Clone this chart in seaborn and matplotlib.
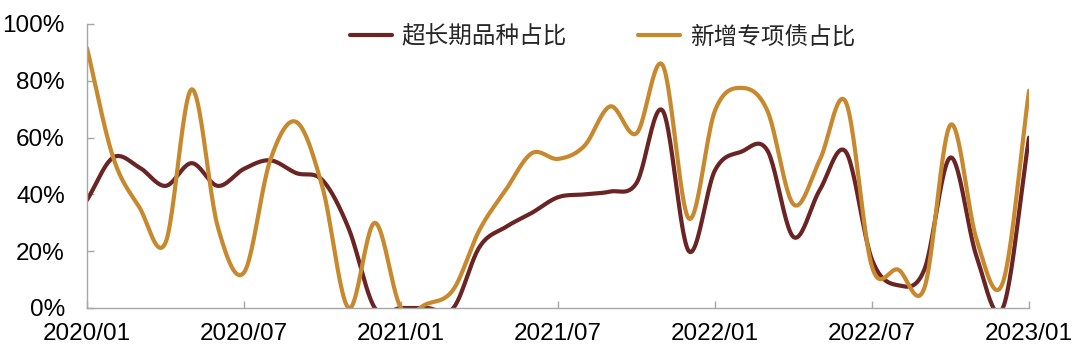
import numpy as np
import pandas as pd
import matplotlib
matplotlib.use("Agg")
import matplotlib.pyplot as plt
import seaborn as sns

# ---- data ----
months = pd.period_range("2020-01", "2023-01", freq="M").strftime("%Y/%m").tolist()
long_share = [38, 53, 49.5, 43, 51, 43, 49, 52, 47.5, 45, 28, 0, 0, 0, 0, 21.5,
              28.5, 33.5, 39, 40, 41, 44, 69.5, 20, 48.5, 55, 55.5, 25, 41.5, 55,
              17, 8, 13.5, 53, 18, 0, 60]
special_share = [91.5, 53, 35.5, 23, 77, 28.5, 12.5, 52, 65.5, 42.5, 0, 30, 0, 1.5,
                 6.5, 27.5, 41.5, 54.5, 52.5, 57, 71, 61.5, 85.5, 31.5, 69.5, 77.5,
                 69.5, 36.5, 52, 72.5, 14.5, 13.5, 7, 64.5, 24, 9, 76.5]
series_names = ["超长期品种占比", "新增专项债占比"]
tick_labels = ["2020/01", "2020/07", "2021/01", "2021/07", "2022/01", "2022/07", "2023/01"]
yticks = [0, 20, 40, 60, 80, 100]

colors = ["#6B2424", "#C8892E"]


def smooth(values, n=24):
    """Catmull-Rom rendering of a line through the given points (like Excel's smoothed line)."""
    p = np.asarray(values, dtype=float)
    x = np.arange(len(p), dtype=float)
    P = np.concatenate([[2 * p[0] - p[1]], p, [2 * p[-1] - p[-2]]])
    xs, ys = [], []
    t = np.linspace(0, 1, n, endpoint=False)
    for i in range(len(p) - 1):
        p0, p1, p2, p3 = P[i], P[i + 1], P[i + 2], P[i + 3]
        y = 0.5 * ((2 * p1) + (-p0 + p2) * t + (2 * p0 - 5 * p1 + 4 * p2 - p3) * t ** 2
                   + (-p0 + 3 * p1 - 3 * p2 + p3) * t ** 3)
        xs.append(x[i] + t)
        ys.append(y)
    xs.append([x[-1]])
    ys.append([p[-1]])
    return np.concatenate(xs), np.concatenate(ys)


frames = []
for name, vals in zip(series_names, [long_share, special_share]):
    xs, ys = smooth(vals)
    frames.append(pd.DataFrame({"x": xs, "y": ys, "series": name}))
df = pd.concat(frames, ignore_index=True)

sns.set_theme(style="white")
plt.rcParams["font.family"] = ["Liberation Sans", "Noto Sans CJK SC", "DejaVu Sans"]

fig = plt.figure(figsize=(10.8, 3.54), dpi=100)
ax = fig.add_axes([87 / 1080, 1 - 308 / 354, (1029 - 87) / 1080, (308 - 24) / 354])

sns.lineplot(data=df, x="x", y="y", hue="series", hue_order=series_names,
             palette=colors, linewidth=3.0, sort=False, estimator=None, ax=ax)

ax.set_xlim(0, len(months) - 1)
ax.set_ylim(0, 100)
tick_pos = [months.index(t) for t in tick_labels]
ax.set_xticks(tick_pos)
ax.set_xticklabels(tick_labels)
ax.set_yticks(yticks)
ax.set_yticklabels([f"{v}%" for v in yticks])
ax.set_xlabel("")
ax.set_ylabel("")

for s in ["top", "right"]:
    ax.spines[s].set_visible(False)
for s in ["left", "bottom"]:
    ax.spines[s].set_color("#A6A6A6")
    ax.spines[s].set_linewidth(1.0)

ax.tick_params(axis="x", direction="in", length=5, width=1, color="#A6A6A6",
               labelsize=17.5, pad=11, labelcolor="black", bottom=True)
ax.tick_params(axis="y", direction="in", length=5, width=1, color="#A6A6A6",
               labelsize=17.5, pad=16, labelcolor="black", left=True)

handles, labels = ax.get_legend_handles_labels()
ax.legend(handles, labels, loc="center", bbox_to_anchor=(0.547, 0.954), ncol=2,
          frameon=False, fontsize=17, handlelength=1.8, handletextpad=0.4,
          columnspacing=3.0, borderaxespad=0)

fig.savefig("out.png", dpi=100)
